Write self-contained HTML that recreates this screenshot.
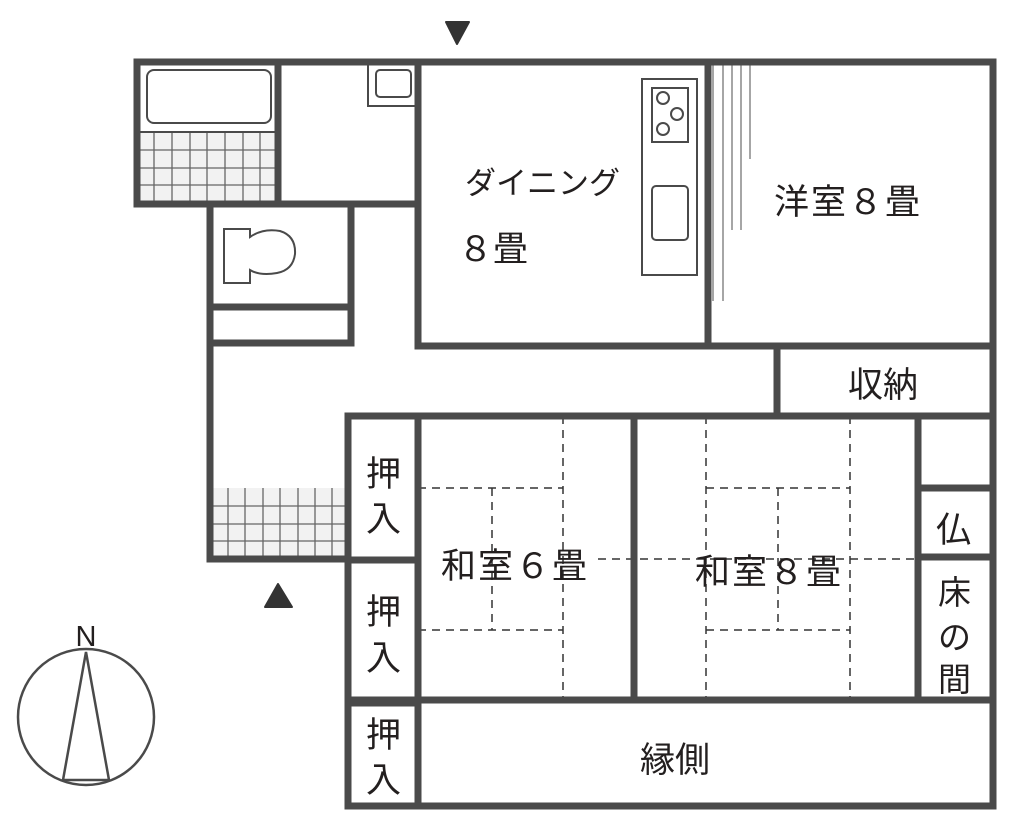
<!DOCTYPE html>
<html><head><meta charset="utf-8"><style>
html,body{margin:0;padding:0;background:#fff;}
svg{display:block;}
text{font-family:"Liberation Sans","Noto Sans CJK JP",sans-serif;fill:#231f1f;}
</style></head><body>
<svg width="1020" height="817" viewBox="0 0 1020 817" xmlns="http://www.w3.org/2000/svg">
<g fill="#f2f2f2"><rect x="137" y="132" width="141" height="70"/><rect x="210" y="488" width="138" height="71"/></g>
<g stroke="#666" stroke-width="1.3" fill="none">
<path d="M154 132V202M172 132V202M190 132V202M207 132V202M225 132V202M243 132V202M260 132V202M137 150H278M137 168H278M137 185H278"/>
<path d="M228 488V559M245 488V559M263 488V559M280 488V559M298 488V559M315 488V559M332 488V559M210 506H348M210 524H348M210 541H348"/>
</g>
<g stroke="#4a4a4a" stroke-width="2" fill="none">
<line x1="137" y1="132" x2="278" y2="132"/>
<rect x="147" y="70" width="124" height="53" rx="7"/>
<path d="M368 62V106H418"/>
<rect x="376" y="70" width="35" height="27" rx="4"/>
<path d="M224 229H250V237Q263 228 280 231Q296 236 295 254Q293 270 277 273Q260 276 250 270V283H224Z"/>
<rect x="642" y="79" width="55" height="196"/>
<rect x="652" y="88" width="36" height="54"/>
<circle cx="663" cy="98" r="6"/><circle cx="677" cy="114" r="6"/><circle cx="663" cy="129" r="6"/>
<rect x="652" y="186" width="36" height="54" rx="4"/>
</g>
<g stroke="#777" stroke-width="1.3">
<line x1="713" y1="64" x2="713" y2="301"/><line x1="723" y1="64" x2="723" y2="301"/>
<line x1="732" y1="64" x2="732" y2="230"/><line x1="741" y1="64" x2="741" y2="230"/>
<line x1="750" y1="64" x2="750" y2="159"/>
</g>
<g stroke="#333" stroke-width="1.5" stroke-dasharray="8,6" fill="none">
<path d="M563 416V700M418 488H563M492 488V630M418 630H563M598 559H918"/>
<path d="M706 416V700M850 416V700M706 488H850M778 488V630M706 630H850"/>
</g>
<g stroke="#4a4a4a" stroke-width="7" fill="none" stroke-linecap="square">
<path d="M137 62H993V806H348V416H993"/>
<path d="M137 62V204H418M278 62V204M418 62V346H993M708 62V346"/>
<path d="M210 204V559H348M351 204V343H210M210 307H351"/>
<path d="M777 346V413"/>
<path d="M348 560H418M348 703H418M418 416V806M634 416V700M348 700H993M918 416V700M918 488H993M918 557H993"/>
</g>
<path d="M446 22H469L457 44Z" fill="#333" stroke="#333" stroke-width="2" stroke-linejoin="round"/>
<path d="M265 607H292L278 584Z" fill="#333" stroke="#333" stroke-width="2" stroke-linejoin="round"/>
<g stroke="#4a4a4a" stroke-width="2.5" fill="none">
<circle cx="86" cy="717" r="68"/>
<path d="M86 652L63 780H109Z"/>
</g>
<text x="86" y="646" font-size="29" text-anchor="middle" fill="#444">N</text>
<g font-size="35">
<text x="465" y="194" font-size="31">ダイニング</text>
<text x="458" y="261">８畳</text>
<text x="774" y="214" letter-spacing="2">洋室８畳</text>
<text x="848" y="397">収納</text>
<text x="441" y="578" letter-spacing="2">和室６畳</text>
<text x="695" y="584" letter-spacing="2">和室８畳</text>
<text x="640" y="772">縁側</text>
<text x="366" y="486">押</text><text x="366" y="531">入</text>
<text x="366" y="624">押</text><text x="366" y="670">入</text>
<text x="366" y="747">押</text><text x="366" y="792">入</text>
<text x="936" y="542">仏</text>
</g>
<g font-size="33">
<text x="938" y="604">床</text><text x="938" y="649">の</text><text x="938" y="691">間</text>
</g>
</svg>
</body></html>
